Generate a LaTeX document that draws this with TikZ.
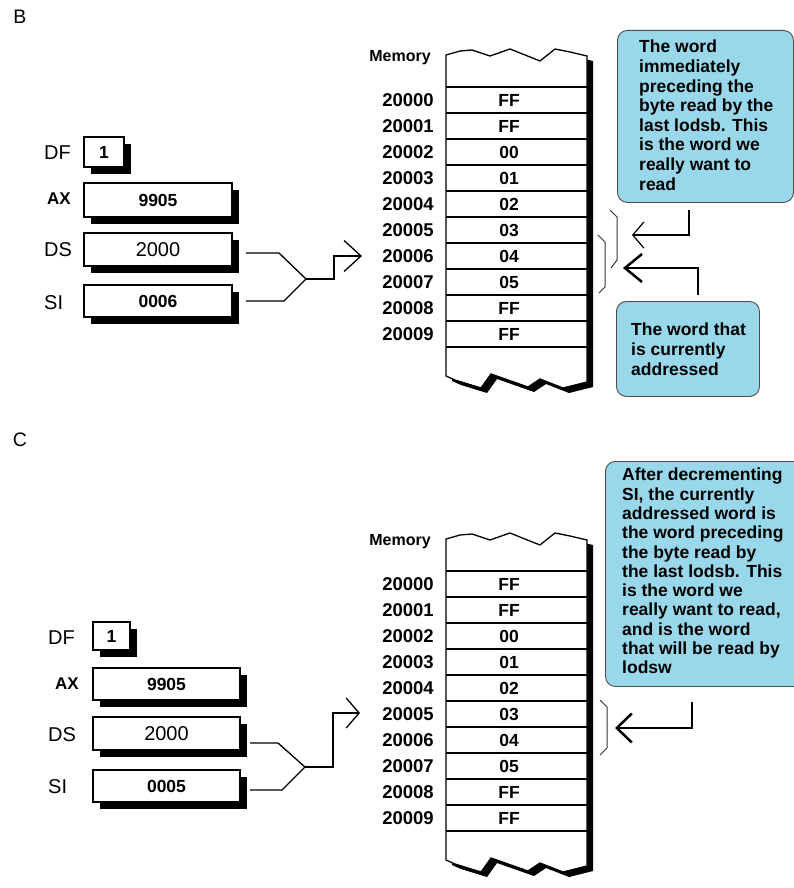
\documentclass[tikz,border=0pt]{standalone}
\usepackage{fontspec}
\setmainfont{Liberation Sans}
\usetikzlibrary{arrows.meta,shadows}
\definecolor{calloutblue}{RGB}{152,216,234}
\newcommand\memshape[1]{\path[#1] (446,55) -- (460,51) -- (472,50) -- (490,56) -- (510,49) -- (540,61) -- (555,49) -- (570,52) -- (587,56) -- (587,382) -- (563,388) -- (540,379) -- (528,387) -- (491,374) -- (481,388) -- (455,380) -- (446,376) -- cycle;}
\tikzset{
  reg/.style={draw, line width=1.5pt, fill=white, inner sep=0pt, outer sep=0pt,
    drop shadow={shadow xshift=7pt, shadow yshift=-7pt, fill=black, opacity=1}},
  reglabel/.style={anchor=west, inner sep=0pt, font=\fontsize{20}{22}\selectfont},
  addr/.style={inner sep=0pt, font=\fontsize{18.5}{20}\selectfont\bfseries},
  memval/.style={inner sep=0pt, font=\fontsize{17.5}{19}\selectfont\bfseries},
  memlabel/.style={inner sep=0pt, font=\fontsize{16}{18}\selectfont\bfseries},
  note/.style={draw=black!70, line width=0.9pt, fill=calloutblue, rounded corners=10pt, anchor=north west, inner sep=0pt},
  notetext/.style={anchor=north west, inner sep=0pt, align=left, font=\fontsize{17.5}{19.6}\selectfont\bfseries},
  link/.style={line width=1.3pt},
  bigarrow/.style={line width=2.5pt},
  bracket/.style={line width=1pt, black!80},
  panel/.style={inner sep=0pt, font=\fontsize{19.5}{22}\selectfont},
}
\begin{document}
\begin{tikzpicture}[x=1pt,y=-1pt]
\useasboundingbox (0,0) rectangle (794,888);
\clip (0,0) rectangle (794,888);
\fill[white] (0,0) rectangle (794,888);

% ---------- memory columns (both panels) ----------
\foreach \p/\dy in {B/0,C/484}{
\begin{scope}[shift={(0,\dy)}, name prefix=\p-]
  \memshape{fill=black, shift={(6,5)}}
  \memshape{fill=white, draw, line width=1.3pt}
  \foreach \i in {0,...,10}
    \draw[line width=1.2pt] (446,{87+26*\i}) -- (587,{87+26*\i});
  \node[memlabel] (mem) at (400,58) {Memory};
  \foreach \v [count=\i from 0] in {FF,FF,00,01,02,03,04,05,FF,FF}{
    \node[addr] (a\i) at (408,{100+26*\i}) {2000\i};
    \node[memval] (v\i) at (509,{100+26*\i}) {\v};
  }
\end{scope}
}

% ---------- panel B ----------
\node[panel] (B-title) at (20,17) {B};
\node[reglabel] (B-DFl) at (44,153) {DF};
\node[reg, minimum width=40pt, minimum height=30pt] (B-DF) at (104,152) {\fontsize{17.5}{19}\selectfont\bfseries 1};
\node[reglabel, font=\fontsize{17}{19}\selectfont\bfseries] (B-AXl) at (47,199) {AX};
\node[reg, minimum width=148pt, minimum height=34pt] (B-AX) at (158,200) {\fontsize{17.5}{19}\selectfont\bfseries 9905};
\node[reglabel] (B-DSl) at (44,250) {DS};
\node[reg, minimum width=148pt, minimum height=33pt] (B-DS) at (158,249.5) {\fontsize{20}{22}\selectfont 2000};
\node[reglabel] (B-SIl) at (44,303) {SI};
\node[reg, minimum width=148pt, minimum height=32pt] (B-SI) at (158,301) {\fontsize{17.5}{19}\selectfont\bfseries 0006};

\coordinate (B-ds0) at (246,253);
\coordinate (B-si0) at (246,301);
\coordinate (B-j) at (306,279);
\coordinate (B-tip) at (362,256);
\draw[link] (B-ds0) -- (279,253) -- (B-j);
\draw[link] (B-si0) -- (284,301) -- (B-j);
\draw[link, -{Straight Barb[length=17pt,width=31pt]}] (B-j) -- (334,279) -- (334,256) -- (B-tip);

\node[note, minimum width=176pt, minimum height=172pt] (B-n1) at (617,30) {};
\node[notetext] (B-n1t) at (639,40) {The word\\immediately\\preceding the\\byte read by the\\last lodsb. This\\is the word we\\really want to\\read};
\node[note, minimum width=143pt, minimum height=95pt] (B-n2) at (616,301) {};
\node[notetext] (B-n2t) at (631,323) {The word that\\is currently\\addressed};

\draw[bracket] (610,210) -- (617,217) -- (617,260) -- (611,268);
\draw[bracket] (598,235) -- (605,242) -- (605,287) -- (599,293);

\coordinate (B-s1) at (689,210);
\coordinate (B-t1) at (632,235);
\draw[line width=1.2pt, -{Straight Barb[length=11pt,width=26pt]}] (B-s1) -- (689,235) -- (B-t1);
\coordinate (B-s2) at (698,295);
\coordinate (B-t2) at (623,268);
\draw[bigarrow, -{Straight Barb[length=17pt,width=28pt]}] (B-s2) -- (698,268) -- (B-t2);

% ---------- panel C ----------
\node[panel] (C-title) at (20,440) {C};
\node[reglabel] (C-DFl) at (48,638) {DF};
\node[reg, minimum width=37pt, minimum height=28pt] (C-DF) at (111.5,636) {\fontsize{17.5}{19}\selectfont\bfseries 1};
\node[reglabel, font=\fontsize{17}{19}\selectfont\bfseries] (C-AXl) at (55,684) {AX};
\node[reg, minimum width=147pt, minimum height=32pt] (C-AX) at (166.5,684) {\fontsize{17.5}{19}\selectfont\bfseries 9905};
\node[reglabel] (C-DSl) at (48,735) {DS};
\node[reg, minimum width=147pt, minimum height=33pt] (C-DS) at (166.5,733.5) {\fontsize{20}{22}\selectfont 2000};
\node[reglabel] (C-SIl) at (48,787) {SI};
\node[reg, minimum width=147pt, minimum height=32pt] (C-SI) at (166.5,786) {\fontsize{17.5}{19}\selectfont\bfseries 0005};

\coordinate (C-ds0) at (250,743);
\coordinate (C-si0) at (250,790);
\coordinate (C-j) at (305,767);
\coordinate (C-tip) at (360,713);
\draw[link] (C-ds0) -- (278,743) -- (C-j);
\draw[link] (C-si0) -- (282,790) -- (C-j);
\draw[link, -{Straight Barb[length=13pt,width=30pt]}] (C-j) -- (333,767) -- (333,713) -- (C-tip);

\node[note, minimum width=240pt, minimum height=225pt] (C-n1) at (605,461) {};
\node[notetext, font=\fontsize{17.5}{19.3}\selectfont\bfseries] (C-n1t) at (622,468) {After decrementing\\SI, the currently\\addressed word is\\the word preceding\\the byte read by\\the last lodsb. This\\is the word we\\really want to read,\\and is the word\\that will be read by\\lodsw};

\draw[bracket] (600,700) -- (607,707) -- (607,748) -- (600,755);
\coordinate (C-s1) at (692,702);
\coordinate (C-t1) at (615,728);
\draw[bigarrow, -{Straight Barb[length=15pt,width=29pt]}] (C-s1) -- (692,728) -- (C-t1);
\end{tikzpicture}
\end{document}
